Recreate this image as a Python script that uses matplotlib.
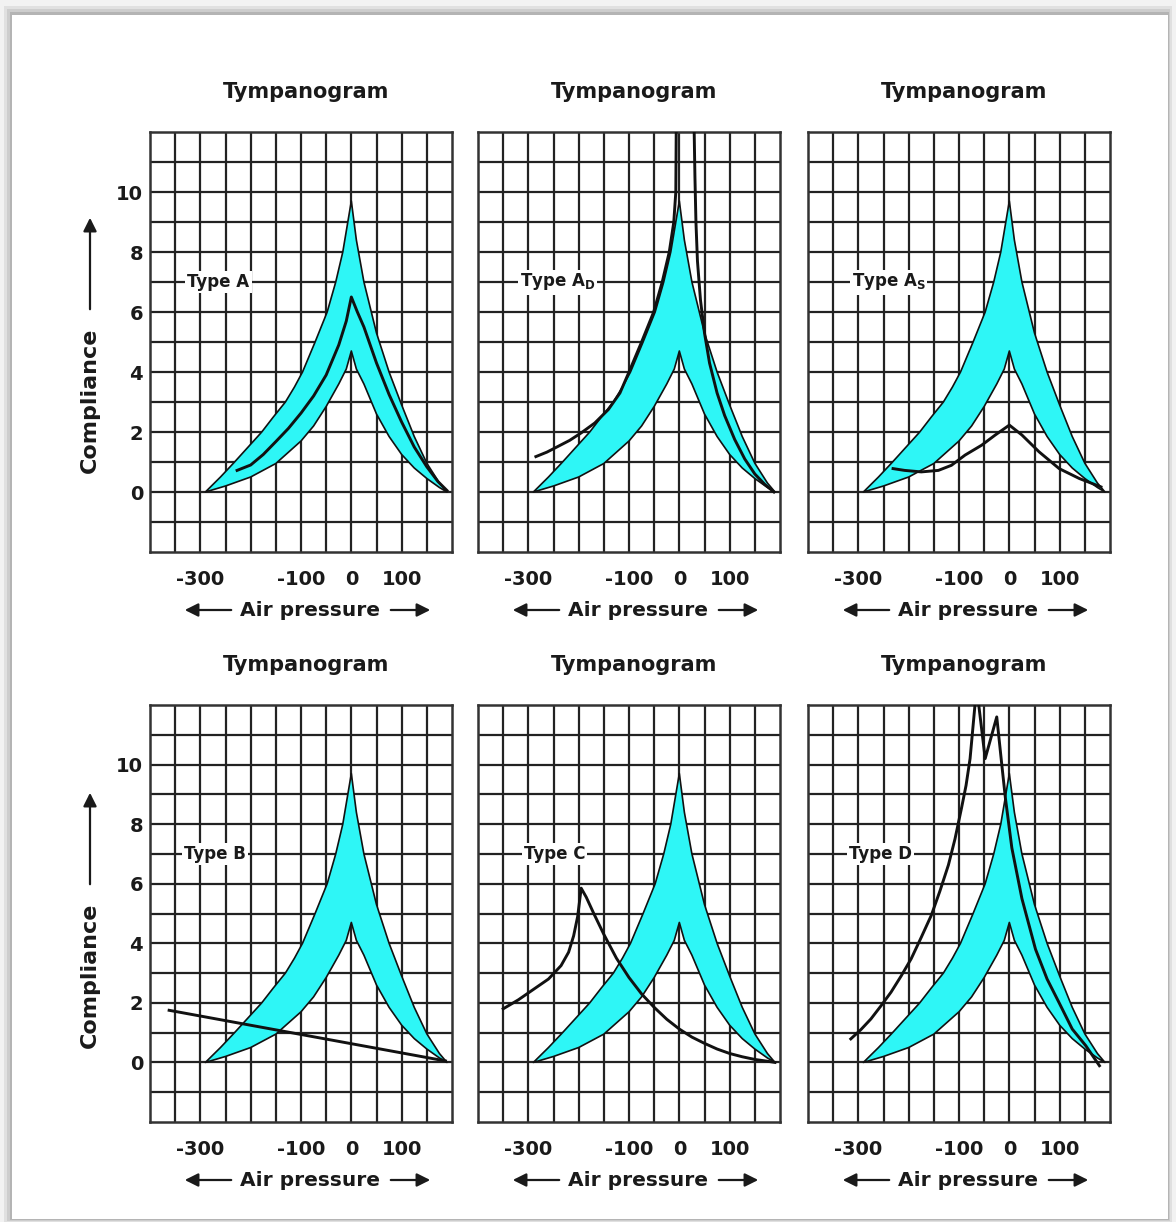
import matplotlib
matplotlib.use("Agg")
import matplotlib.pyplot as plt
from matplotlib.patches import Rectangle, Polygon, FancyArrowPatch
import numpy as np

W, H = 1176, 1222

# ---------------- data ----------------
# normal (shaded) region, shared by all panels
band_outer_left_x = [-290, -260, -232, -205, -178, -155, -131, -113, -97, -72, -48, -31, -17, -7, 0]
band_outer_left_y = [0, 0.5, 1.0, 1.5, 2.0, 2.5, 3.0, 3.5, 4.0, 5.0, 6.0, 7.0, 8.0, 9.0, 9.7]
band_inner_left_x = [-290, -250, -200, -150, -100, -75, -50, -25, -10, 0]
band_inner_left_y = [0, 0.2, 0.5, 0.95, 1.7, 2.2, 2.85, 3.6, 4.1, 4.7]
band_outer_right_x = [0, 10, 25, 50, 75, 100, 125, 150, 175, 190]
band_outer_right_y = [9.7, 8.4, 7.0, 5.3, 4.0, 2.9, 1.85, 0.96, 0.3, 0]
band_inner_right_x = [0, 10, 25, 50, 75, 100, 125, 150, 175, 190]
band_inner_right_y = [4.7, 4.1, 3.6, 2.6, 1.85, 1.25, 0.8, 0.45, 0.15, 0]

typeA_x = [-227, -215, -200, -175, -150, -125, -100, -75, -50, -25, -10, 0, 12, 25, 50, 75, 100, 125, 150, 172, 190]
typeA_y = [0.72, 0.8, 0.9, 1.25, 1.68, 2.12, 2.63, 3.2, 3.9, 4.9, 5.7, 6.5, 6.0, 5.5, 4.3, 3.25, 2.33, 1.5, 0.84, 0.35, 0.05]

typeAD_x = [-285, -263, -241, -218, -195, -168, -141, -118, -100, -75, -51, -34, -20, -11, -7, -6, 29, 31, 33, 36, 42, 50, 60, 75, 90, 110, 130, 150, 170, 188]
typeAD_y = [1.18, 1.33, 1.52, 1.72, 1.97, 2.3, 2.75, 3.3, 4.0, 5.0, 6.0, 7.0, 8.0, 9.0, 10.0, 12.5, 12.5, 10.5, 9.0, 7.7, 6.4, 5.3, 4.3, 3.3, 2.55, 1.75, 1.1, 0.6, 0.25, 0]

typeAS_x = [-231, -208, -175, -141, -115, -88, -55, -28, 0, 25, 59, 99, 139, 182]
typeAS_y = [0.78, 0.72, 0.67, 0.72, 0.89, 1.23, 1.56, 1.9, 2.23, 1.9, 1.34, 0.78, 0.45, 0.17]

typeB_x = [-362, 187]
typeB_y = [1.75, 0.05]

typeC_x = [-350, -320, -290, -260, -235, -220, -210, -202, -195, -185, -170, -150, -125, -100, -75, -50, -25, 0, 25, 50, 75, 100, 125, 150, 175, 190]
typeC_y = [1.8, 2.1, 2.45, 2.8, 3.25, 3.7, 4.25, 4.9, 5.85, 5.55, 5.0, 4.3, 3.5, 2.85, 2.3, 1.85, 1.45, 1.12, 0.85, 0.64, 0.45, 0.3, 0.19, 0.1, 0.04, 0]

typeD_x = [-315, -295, -275, -255, -235, -215, -195, -175, -155, -138, -121, -108, -95, -86, -78, -65, -48, -25, -15, -8, 5, 25, 52, 75, 99, 125, 152, 179]
typeD_y = [0.79, 1.1, 1.46, 1.9, 2.36, 2.9, 3.48, 4.2, 4.94, 5.75, 6.63, 7.5, 8.54, 9.3, 10.2, 12.6, 10.2, 11.6, 10.0, 8.9, 7.2, 5.5, 3.8, 2.8, 2.0, 1.12, 0.56, -0.11]

panel_labels = ["Type A", r"Type A$_\mathbf{D}$", r"Type A$_\mathbf{S}$", "Type B", "Type C", "Type D"]
label_x = [-264, -242, -240, -270, -248, -256]
label_y = 7
curves = [(typeA_x, typeA_y), (typeAD_x, typeAD_y), (typeAS_x, typeAS_y),
          (typeB_x, typeB_y), (typeC_x, typeC_y), (typeD_x, typeD_y)]

x_ticks = [-300, -100, 0, 100]
y_ticks = [0, 2, 4, 6, 8, 10]
x_range = (-400, 200)
y_range = (-2, 12)
title = "Tympanogram"
xlab = "Air pressure"
ylab = "Compliance"

# ---------------- styling ----------------
TXT = "#1a1a1a"
CYAN = "#2ef6f6"
plt.rcParams["font.family"] = ["DejaVu Sans"]
plt.rcParams["font.weight"] = "bold"
plt.rcParams["mathtext.default"] = "bf"
plt.rcParams["axes.unicode_minus"] = False

fig = plt.figure(figsize=(W / 100, H / 100), dpi=100)
fig.patch.set_facecolor("#f2f2f2")


def frect(x0, y0, x1, y1, color):
    fig.patches.append(Rectangle((x0 / W, 1 - y1 / H), (x1 - x0) / W, (y1 - y0) / H,
                                 transform=fig.transFigure, facecolor=color,
                                 edgecolor="none", zorder=-10))

frect(4, 6, 1172, 1222, "#e0e0e0")
frect(7, 9, 1170, 1221, "#cdcdcd")
frect(10, 12, 1169, 1220, "#b4b4b4")
frect(12, 15, 1168, 1219, "#ffffff")

col_left = [150, 478, 808]
col_w = 302
row_top = [132, 705]
row_bot = [552, 1122]

# band polygon (built from the arrays)
band_pts = (list(zip(band_outer_left_x, band_outer_left_y)) +
            list(zip(band_outer_right_x, band_outer_right_y))[1:] +
            list(zip(band_inner_right_x, band_inner_right_y))[::-1][1:] +
            list(zip(band_inner_left_x, band_inner_left_y))[::-1][1:-1])

for i in range(6):
    r, c = divmod(i, 3)
    x0 = col_left[c]
    y0, y1 = row_top[r], row_bot[r]
    ax = fig.add_axes([x0 / W, 1 - y1 / H, col_w / W, (y1 - y0) / H])
    ax.set_xlim(*x_range)
    ax.set_ylim(*y_range)
    ax.set_xticks(x_ticks)
    ax.set_xticks(np.arange(x_range[0] + 50, x_range[1], 50), minor=True)
    ax.set_yticks(y_ticks)
    ax.set_yticks(np.arange(y_range[0] + 1, y_range[1]), minor=True)
    ax.grid(which="both", color="#222222", lw=1.6)
    ax.set_axisbelow(True)
    for s in ax.spines.values():
        s.set_color("#333333")
        s.set_linewidth(1.8)
    ax.tick_params(which="both", length=0)
    ax.tick_params(axis="x", pad=13, labelsize=14, labelcolor=TXT)
    ax.tick_params(axis="y", pad=5, labelsize=14, labelcolor=TXT)
    for t in ax.get_xticklabels() + ax.get_yticklabels():
        t.set_fontweight("bold")
    if c != 0:
        ax.set_yticklabels([])

    ax.add_patch(Polygon(band_pts, closed=True, facecolor=CYAN, edgecolor="#111111",
                         lw=1.2, zorder=3, joinstyle="round"))
    cx, cy = curves[i]
    ax.plot(cx, cy, color="#111111", lw=2.1, zorder=4, solid_joinstyle="round")

    ax.text(label_x[i], label_y, panel_labels[i], ha="center", va="center",
            fontsize=12, fontweight="bold", color=TXT, zorder=5,
            bbox=dict(facecolor="white", edgecolor="none", pad=1.5))

    # title
    fig.text((x0 + col_w / 2 + 5) / W, 1 - (y0 - 40) / H, title, ha="center", va="center",
             fontsize=15, fontweight="bold", color=TXT)
    # x label with arrows
    ly = 1 - (y1 + 58) / H
    fig.text((x0 + 160) / W, ly, xlab, ha="center", va="center",
             fontsize=14.5, fontweight="bold", color=TXT)
    fig.add_artist(FancyArrowPatch(
        ((x0 + 84) / W, ly), ((x0 + 32) / W, ly), transform=fig.transFigure,
        arrowstyle="-|>", mutation_scale=20, color=TXT, lw=1.6))
    fig.add_artist(FancyArrowPatch(
        ((x0 + 238) / W, ly), ((x0 + 283) / W, ly), transform=fig.transFigure,
        arrowstyle="-|>", mutation_scale=20, color=TXT, lw=1.6))
    # y label with arrow
    if c == 0:
        mid = 400 if r == 0 else 975
        fig.text(90 / W, 1 - mid / H, ylab, ha="center", va="center", rotation=90,
                 fontsize=16, fontweight="bold", color=TXT)
        fig.add_artist(FancyArrowPatch(
            (90 / W, 1 - (mid - 88) / H), (90 / W, 1 - (mid - 185) / H),
            transform=fig.transFigure, arrowstyle="-|>", mutation_scale=20,
            color=TXT, lw=1.6))

fig.savefig("out.png", dpi=100, facecolor=fig.get_facecolor())
